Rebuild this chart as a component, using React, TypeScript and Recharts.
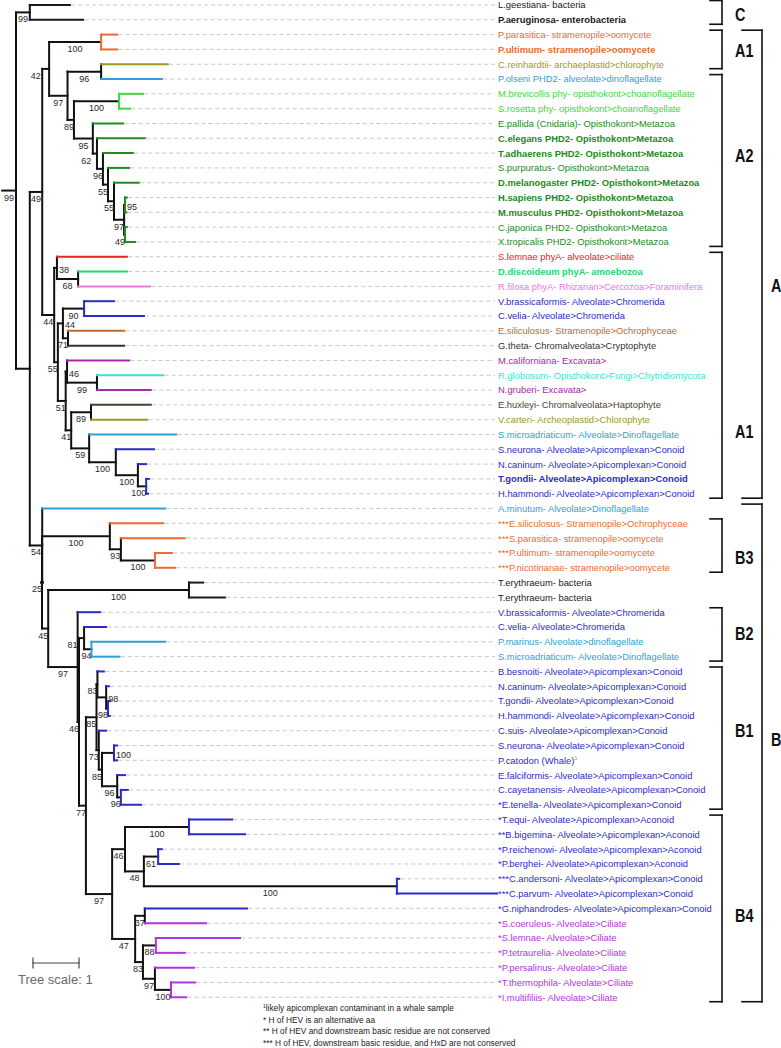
import React from "react";
import { ScatterChart, Scatter, XAxis, YAxis, ReferenceLine, ReferenceDot } from "recharts";

// leaf labels, top to bottom
const LEAVES = [
  "L.geestiana- bacteria",
  "P.aeruginosa- enterobacteria",
  "P.parasitica- stramenopile>oomycete",
  "P.ultimum- stramenopile>oomycete",
  "C.reinhardtii- archaeplastid>chlorophyte",
  "P.olseni PHD2- alveolate>dinoflagellate",
  "M.brevicollis phy- opisthokont>choanoflagellate",
  "S.rosetta phy- opisthokont>choanoflagellate",
  "E.pallida (Cnidaria)- Opisthokont>Metazoa",
  "C.elegans PHD2- Opisthokont>Metazoa",
  "T.adhaerens PHD2- Opisthokont>Metazoa",
  "S.purpuratus- Opisthokont>Metazoa",
  "D.melanogaster PHD2- Opisthokont>Metazoa",
  "H.sapiens PHD2- Opisthokont>Metazoa",
  "M.musculus PHD2- Opisthokont>Metazoa",
  "C.japonica PHD2- Opisthokont>Metazoa",
  "X.tropicalis PHD2- Opisthokont>Metazoa",
  "S.lemnae phyA- alveolate>ciliate",
  "D.discoideum phyA- amoebozoa",
  "R.filosa phyA- Rhizarian>Cercozoa>Foraminifera",
  "V.brassicaformis- Alveolate>Chromerida",
  "C.velia- Alveolate>Chromerida",
  "E.siliculosus- Stramenopile>Ochrophyceae",
  "G.theta- Chromalveolata>Cryptophyte",
  "M.californiana- Excavata>",
  "R.globosum- Opisthokont>Fungi>Chytridiomycota",
  "N.gruberi- Excavata>",
  "E.huxleyi- Chromalveolata>Haptophyte",
  "V.carteri- Archeoplastid>Chlorophyte",
  "S.microadriaticum- Alveolate>Dinoflagellate",
  "S.neurona- Alveolate>Apicomplexan>Conoid",
  "N.caninum- Alveolate>Apicomplexan>Conoid",
  "T.gondii- Alveolate>Apicomplexan>Conoid",
  "H.hammondi- Alveolate>Apicomplexan>Conoid",
  "A.minutum- Alveolate>Dinoflagellate",
  "***E.siliculosus- Stramenopile>Ochrophyceae",
  "***S.parasitica- stramenopile>oomycete",
  "***P.ultimum- stramenopile>oomycete",
  "***P.nicotinanae- stramenopile>oomycete",
  "T.erythraeum- bacteria",
  "T.erythraeum- bacteria",
  "V.brassicaformis- Alveolate>Chromerida",
  "C.velia- Alveolate>Chromerida",
  "P.marinus- Alveolate>dinoflagellate",
  "S.microadriaticum- Alveolate>Dinoflagellate",
  "B.besnoiti- Alveolate>Apicomplexan>Conoid",
  "N.caninum- Alveolate>Apicomplexan>Conoid",
  "T.gondii- Alveolate>Apicomplexan>Conoid",
  "H.hammondi- Alveolate>Apicomplexan>Conoid",
  "C.suis- Alveolate>Apicomplexan>Conoid",
  "S.neurona- Alveolate>Apicomplexan>Conoid",
  "P.catodon (Whale)",
  "E.falciformis- Alveolate>Apicomplexan>Conoid",
  "C.cayetanensis- Alveolate>Apicomplexan>Conoid",
  "*E.tenella- Alveolate>Apicomplexan>Conoid",
  "*T.equi- Alveolate>Apicomplexan>Aconoid",
  "**B.bigemina- Alveolate>Apicomplexan>Aconoid",
  "*P.reichenowi- Alveolate>Apicomplexan>Aconoid",
  "*P.berghei- Alveolate>Apicomplexan>Aconoid",
  "***C.andersoni- Alveolate>Apicomplexan>Conoid",
  "***C.parvum- Alveolate>Apicomplexan>Conoid",
  "*G.niphandrodes- Alveolate>Apicomplexan>Conoid",
  "*S.coeruleus- Alveolate>Ciliate",
  "*S.lemnae- Alveolate>Ciliate",
  "*P.tetraurelia- Alveolate>Ciliate",
  "*P.persalinus- Alveolate>Ciliate",
  "*T.thermophila- Alveolate>Ciliate",
  "*I.multifiliis- Alveolate>Ciliate",
];

// colour group of each leaf
const LEAF_GROUP = [
  "k", "k", "or", "or", "ol", "sk", "li", "li",
  "gr", "gr", "gr", "gr", "gr", "gr", "gr", "gr", "gr",
  "rd", "sp", "pk", "bl", "bl", "br", "dk", "pu", "tq", "pu", "db", "ol", "sk",
  "bl", "bl", "bl", "bl", "sk", "or", "or", "or", "or", "k", "k",
  "bl", "bl", "sk", "sk",
  "bl", "bl", "bl", "bl", "bl", "bl", "bl", "bl", "bl", "bl",
  "bl", "bl", "bl", "bl", "bl", "bl", "bl",
  "vi", "vi", "vi", "vi", "vi", "vi",
];

const BOLD_LEAVES = [1, 3, 9, 10, 12, 13, 14, 18, 32];
const FOOTNOTE_LEAVES = [51];

// tip depth of each leaf, in tree-scale units from the root
const TIP_DEPTH = [
  1.17, 1.46, 2.2, 2.2, 3.3, 3.17, 2.76, 2.48, 2.33, 2.8, 2.54, 2.46, 2.67, 2.41, 2.4, 2.41, 2.59,
  2.41, 2.41, 2.91, 2.13, 2.78, 2.35, 2.35, 2.46, 3.2, 2.93, 2.93, 2.85, 3.48, 3.0, 2.83, 2.89, 2.87,
  3.24, 3.2, 3.67, 3.39, 3.46, 4.07, 4.54, 1.83, 1.96, 3.24, 2.25,
  1.91, 2.02, 2.04, 2.04, 1.96, 2.2, 2.2, 2.37, 2.43, 2.72,
  4.7, 4.98, 3.17, 3.54, 8.33, 10.46, 5.02, 4.13, 4.87, 3.67, 3.87, 3.89, 3.7,
];

// internal nodes: [id, depth, bootstrap, children (leaf index or node id)]
const CLADES: [string, number, number | null, (number | string)[]][] = [
  ["ROOT", 0, 99, ["C", "AB"]],
  ["C", 0.3, 99, [0, 1]],
  ["AB", 0.3, null, ["A", "B"]],
  ["A", 0.57, 49, ["A1a", "A44"]],
  ["A1a", 0.72, 42, ["P100", "N97a"]],
  ["P100", 1.85, 100, [2, 3]],
  ["N97a", 1.12, 97, ["N96a", "N89a"]],
  ["N96a", 1.85, 96, [4, 5]],
  ["N89a", 1.26, 89, ["N100m", "N95a"]],
  ["N100m", 2.24, 100, [6, 7]],
  ["N95a", 1.67, 95, [8, "N62"]],
  ["N62", 1.76, 62, [9, "N96b"]],
  ["N96b", 1.89, 96, [10, "N55a"]],
  ["N55a", 2.0, 55, [11, "N55b"]],
  ["N55b", 2.13, 55, [12, "N97b"]],
  ["N97b", 2.35, 97, ["N95b", "N49"]],
  ["N95b", 2.37, 95, [13, 14]],
  ["N49", 2.37, 49, [15, 16]],
  ["A44", 0.83, 44, ["N38", "N55c"]],
  ["N38", 0.89, 38, [17, "N68"]],
  ["N68", 1.35, 68, [18, 19]],
  ["N55c", 0.91, 55, ["N44b", "N51"]],
  ["N44b", 1.02, 44, ["N90", "N71"]],
  ["N90", 1.48, 90, [20, 21]],
  ["N71", 1.13, 71, [22, 23]],
  ["N51", 1.08, 51, ["N46a", "N41"]],
  ["N46a", 1.11, 46, [24, "N99"]],
  ["N99", 1.76, 99, [25, 26]],
  ["N41", 1.2, 41, ["N89b", "N59"]],
  ["N89b", 1.63, 89, [27, 28]],
  ["N59", 1.59, 59, [29, "N100a"]],
  ["N100a", 2.17, 100, [30, "N100b"]],
  ["N100b", 2.65, 100, [31, "N100c"]],
  ["N100c", 2.83, 100, [32, 33]],
  ["B", 0.57, 54, [34, "N25"]],
  ["N25", 0.565, 25, ["N100B3", "N45"]],
  ["N100B3", 2.04, 100, [35, "N93"]],
  ["N93", 2.28, 93, [36, "N100d"]],
  ["N100d", 3.02, 100, [37, 38]],
  ["N45", 0.7, 45, ["N100T", "N97B"]],
  ["N100T", 3.76, 100, [39, 40]],
  ["N97B", 1.34, 97, [41, "N46b"]],
  ["N46b", 1.37, 46, ["N81", "N77"]],
  ["N81", 1.48, 81, [42, "N94"]],
  ["N94", 1.64, 94, [43, 44]],
  ["N77", 1.52, 77, ["N85a", "N97d"]],
  ["N85a", 1.75, 85, ["N83", "N73"]],
  ["N83", 1.77, 83, [45, "N98b"]],
  ["N98b", 1.96, 98, [46, "N98c"]],
  ["N98c", 2.0, 98, [47, 48]],
  ["N73", 1.8, 73, [49, "N85b"]],
  ["N85b", 1.87, 85, ["N100e", "N96c"]],
  ["N100e", 2.13, 100, [50, 51]],
  ["N96c", 2.2, 96, [52, "N96d"]],
  ["N96d", 2.28, 96, [53, 54]],
  ["N97d", 2.09, 97, ["N46c", "N47"]],
  ["N46c", 2.37, 46, ["N100f", "N48"]],
  ["N100f", 3.76, 100, [55, 56]],
  ["N48", 2.78, 48, ["N61", "N100cr"]],
  ["N61", 3.09, 61, [57, 58]],
  ["N100cr", 8.28, 100, [59, 60]],
  ["N47", 2.59, 47, ["N37", "N83b"]],
  ["N37", 2.8, 37, [61, 62]],
  ["N83b", 2.76, 83, ["N88", "N97e"]],
  ["N88", 3.04, 88, [63, 64]],
  ["N97e", 3.02, 97, [65, "N100g"]],
  ["N100g", 3.37, 100, [66, 67]],
];

const ROOT_STUB = -0.3;
const SCALE_BAR = 1;

// clade brackets: [label, first leaf, last leaf, label row]
const BRACKETS_INNER: [string, number, number, number][] = [
  ["C", 0, 1, 0.61],
  ["A1", 2, 4, 3.04],
  ["A2", 5, 16, 10.13],
  ["A1", 17, 33, 28.76],
  ["B3", 35, 38, 37.27],
  ["B2", 41, 44, 42.4],
  ["B1", 45, 54, 48.95],
  ["B4", 55, 67, 61.45],
];
const BRACKETS_OUTER: [string, number, number, number][] = [
  ["A", 2, 33, 18.9],
  ["B", 34, 67, 49.6],
];

const FOOTNOTES = [
  "likely apicomplexan contaminant in a whale sample",
  "* H of HEV is an alternative aa",
  "** H of HEV and downstream basic residue are not conserved",
  "*** H of HEV, downstream basic residue, and HxD are not conserved",
];

const PALETTE: Record<string, string> = {
  k: "#1a1a1a",
  or: "#ee6b2d",
  ol: "#9a9a22",
  sk: "#2e9fd4",
  li: "#3ed83e",
  gr: "#218a21",
  rd: "#ea2228",
  sp: "#20d870",
  pk: "#ec76de",
  bl: "#2b2bc6",
  br: "#c0692c",
  dk: "#333333",
  pu: "#a52aa5",
  tq: "#3fe0d0",
  db: "#4e3e2e",
  vi: "#b034e2",
};

const W = 781;
const H = 1048;
const PXU = 46; // px per tree unit
const ROW = 14.81; // px per leaf row
const X_MIN = -16 / PXU;
const X_MAX = X_MIN + W / PXU;
const Y_MIN = -5 / ROW;
const Y_MAX = Y_MIN + H / ROW;
const px2x = (px: number) => X_MIN + px / PXU;

const LABEL_X = px2x(498);
const LEADER_END = px2x(495);
const RIGHT_LABELS = new Set(["N95b", "N98b", "N100e", "N38", "N44b", "N46a"]);
const LEFT_OF_PARENT = new Set(["A1a", "N81", "N62"]);
const TEXT_FONT = '"Liberation Sans", Arial, sans-serif';

const cladeById = new Map(CLADES.map((c) => [c[0], c]));
const depthOf = (c: number | string) =>
  typeof c === "number" ? TIP_DEPTH[c] : cladeById.get(c)![1];
const yCache = new Map<string, number>();
function yOf(c: number | string): number {
  if (typeof c === "number") return c;
  if (yCache.has(c)) return yCache.get(c)!;
  const kids = cladeById.get(c)![3];
  const y = (yOf(kids[0]) + yOf(kids[kids.length - 1])) / 2;
  yCache.set(c, y);
  return y;
}
const parentDepth = new Map<string, number>([["ROOT", ROOT_STUB]]);
CLADES.forEach(([, d, , kids]) =>
  kids.forEach((k) => typeof k === "string" && parentDepth.set(k, d))
);

type Seg = { x1: number; y1: number; x2: number; y2: number; color: string; w: number; dash?: string };

function buildSegments() {
  const segs: Seg[] = [];
  segs.push({ x1: ROOT_STUB, y1: yOf("ROOT"), x2: 0, y2: yOf("ROOT"), color: "#111", w: 2 });
  CLADES.forEach(([, d, , kids]) => {
    const groups = kids.map((k) => (typeof k === "number" ? LEAF_GROUP[k] : null));
    const same = groups.every((g) => g !== null && g === groups[0] && g !== "k");
    segs.push({
      x1: d, y1: yOf(kids[0]), x2: d, y2: yOf(kids[kids.length - 1]),
      color: same ? PALETTE[groups[0] as string] : "#111", w: 2,
    });
    kids.forEach((k) => {
      const color = typeof k === "number" ? PALETTE[LEAF_GROUP[k]] : "#111";
      segs.push({ x1: d, y1: yOf(k), x2: depthOf(k), y2: yOf(k), color, w: 2 });
    });
  });
  // dashed leaders to the labels
  TIP_DEPTH.forEach((t, i) => {
    if (t < LEADER_END - 0.05)
      segs.push({ x1: t + 0.03, y1: i, x2: LEADER_END, y2: i, color: "#c8c8c8", w: 1, dash: "4 3" });
  });
  // brackets
  const bracket = (list: [string, number, number, number][], tx: number, vx: number) =>
    list.forEach(([, a, b]) => {
      const y1 = a - 0.3;
      const y2 = b + 0.3;
      segs.push({ x1: vx, y1, x2: vx, y2, color: "#111", w: 1.6 });
      segs.push({ x1: tx, y1, x2: vx, y2: y1, color: "#111", w: 1.6 });
      segs.push({ x1: tx, y1: y2, x2: vx, y2, color: "#111", w: 1.6 });
    });
  bracket(BRACKETS_INNER, px2x(710), px2x(722));
  bracket(BRACKETS_OUTER, px2x(742), px2x(762));
  // scale bar
  const sy = (963 - 5) / ROW;
  const sx = px2x(33);
  segs.push({ x1: sx, y1: sy, x2: sx + SCALE_BAR, y2: sy, color: "#444", w: 1.2 });
  segs.push({ x1: sx, y1: sy - 0.33, x2: sx, y2: sy + 0.33, color: "#444", w: 1.2 });
  segs.push({ x1: sx + SCALE_BAR, y1: sy - 0.33, x2: sx + SCALE_BAR, y2: sy + 0.33, color: "#444", w: 1.2 });
  return segs;
}

const SEGMENTS = buildSegments();

const leafLabelData = LEAVES.map((name, i) => ({
  x: LABEL_X,
  y: i,
  name,
  color: PALETTE[LEAF_GROUP[i]],
  bold: BOLD_LEAVES.includes(i),
  sup: FOOTNOTE_LEAVES.includes(i),
}));

const supportData = CLADES.filter((c) => c[2] !== null).map(([id, d, s]) => {
  const txt = String(s);
  const wUnits = (txt.length * 5) / PXU;
  const pd = parentDepth.get(id)!;
  if (RIGHT_LABELS.has(id)) {
    return { x: d + 2 / PXU, y: yOf(id), txt, anchor: "start", dy: 5 };
  }
  if (LEFT_OF_PARENT.has(id)) {
    return { x: pd - 1.5 / PXU, y: yOf(id), txt, anchor: "end", dy: 10 };
  }
  const cx = Math.min((pd + d) / 2, d - wUnits / 2);
  return { x: cx, y: yOf(id), txt, anchor: "middle", dy: 10 };
});

const bracketLabelData = [
  ...BRACKETS_INNER.map(([t, , , r]) => ({ x: px2x(735), y: r, txt: t })),
  ...BRACKETS_OUTER.map(([t, , , r]) => ({ x: px2x(771), y: r, txt: t })),
];

function LeafLabel(props: any) {
  const { cx, cy, payload } = props;
  return (
    <text
      x={cx}
      y={cy + 3.4}
      fontSize={9.4}
      fontFamily={TEXT_FONT}
      fontWeight={payload.bold ? 700 : 400}
      fill={payload.color}
    >
      {payload.name}
      {payload.sup && (
        <tspan dy={-3.5} fontSize={5.5} fill="#e07a2e">
          1
        </tspan>
      )}
    </text>
  );
}

function SupportLabel(props: any) {
  const { cx, cy, payload } = props;
  return (
    <text
      x={cx}
      y={cy + payload.dy}
      fontSize={9}
      fontFamily={TEXT_FONT}
      textAnchor={payload.anchor}
      fill="#2a2a2a"
    >
      {payload.txt}
    </text>
  );
}

// condensed bold clade names
function BracketLabel(props: any) {
  const { cx, cy, payload } = props;
  return (
    <text
      transform={`translate(${cx},${cy + 6.8}) scale(0.76,1)`}
      fontSize={19}
      fontFamily={TEXT_FONT}
      fontWeight={700}
      fill="#111"
    >
      {payload.txt}
    </text>
  );
}

export default function App() {
  return (
    <div
      style={{
        position: "absolute",
        left: 0,
        top: 0,
        width: W,
        height: H,
        background: "#fff",
        overflow: "hidden",
      }}
    >
      <ScatterChart width={W} height={H} margin={{ top: 0, right: 0, bottom: 0, left: 0 }}>
        <XAxis type="number" dataKey="x" domain={[X_MIN, X_MAX]} allowDataOverflow hide />
        <YAxis type="number" dataKey="y" domain={[Y_MIN, Y_MAX]} allowDataOverflow reversed hide />
        {SEGMENTS.map((s, i) => (
          <ReferenceLine
            key={i}
            segment={[
              { x: s.x1, y: s.y1 },
              { x: s.x2, y: s.y2 },
            ]}
            stroke={s.color}
            strokeWidth={s.w}
            strokeDasharray={s.dash}
            strokeLinecap={s.dash ? "butt" : "square"}
            ifOverflow="visible"
          />
        ))}
        <ReferenceDot x={depthOf("N25")} y={yOf("N25")} r={2} fill="#111" stroke="none" ifOverflow="visible" />
        <Scatter data={leafLabelData} shape={LeafLabel} isAnimationActive={false} />
        <Scatter data={supportData} shape={SupportLabel} isAnimationActive={false} />
        <Scatter data={bracketLabelData} shape={BracketLabel} isAnimationActive={false} />
      </ScatterChart>
      <div
        style={{
          position: "absolute",
          left: 18,
          top: 973,
          fontFamily: TEXT_FONT,
          fontSize: 13,
          lineHeight: "13px",
          color: "#6a6a6a",
        }}
      >
        Tree scale: 1
      </div>
      <div
        style={{
          position: "absolute",
          left: 263,
          top: 1001,
          fontFamily: TEXT_FONT,
          fontSize: 8.3,
          lineHeight: "11.6px",
          color: "#222",
          whiteSpace: "nowrap",
        }}
      >
        {FOOTNOTES.map((f, i) => (
          <div key={i}>
            {i === 0 && <sup style={{ fontSize: 5, verticalAlign: "3px" }}>1</sup>}
            {f}
          </div>
        ))}
      </div>
    </div>
  );
}
